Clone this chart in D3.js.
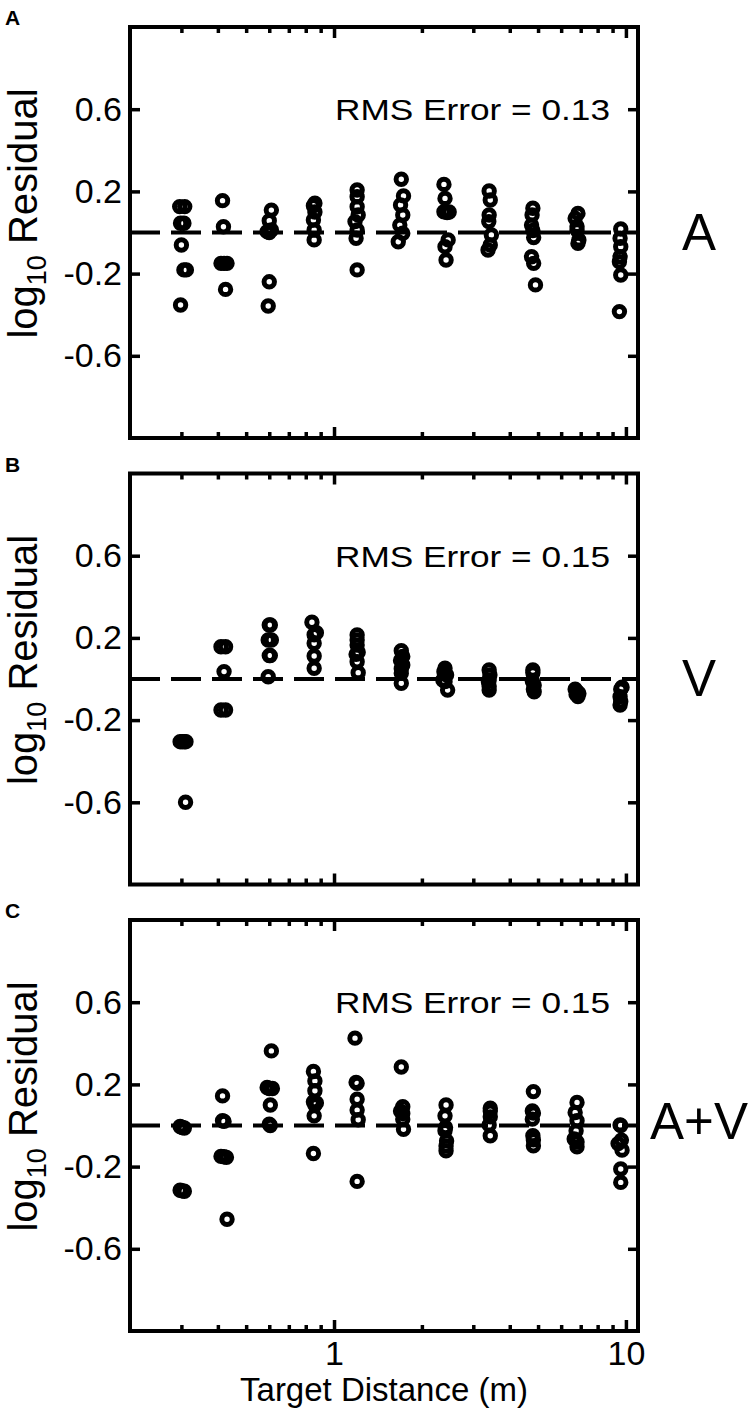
<!DOCTYPE html>
<html>
<head>
<meta charset="utf-8">
<script src="https://cdn.jsdelivr.net/npm/d3@7"></script>
<style>
  body { margin: 0; background: #fff; }
  text { font-family: "Liberation Sans", Arial, sans-serif; fill: #000; }
</style>
</head>
<body>
<div id="chart"></div>
<script>
// データ
const panelTags = ["A", "B", "C"];
const conditions = ["A", "V", "A+V"];
const rmsErrors = ["0.13", "0.15", "0.15"];
const yTicks = [-0.6, -0.2, 0.2, 0.6];
const xMajor = [1, 10];
const xMinor = [0.3, 0.4, 0.5, 0.6, 0.7, 0.8, 0.9, 2, 3, 4, 5, 6, 7, 8, 9];

// [target distance (m), log10 residual]
const residA = [
  [0.296,0.126],[0.308,0.126],[0.298,0.045],[0.306,0.045],[0.300,-0.061],[0.306,-0.182],[0.312,-0.182],[0.298,-0.353],
  [0.415,0.155],[0.418,0.028],[0.410,-0.150],[0.420,-0.150],[0.430,-0.150],[0.425,-0.277],
  [0.61,0.109],[0.60,0.057],[0.59,0.004],[0.61,0.012],[0.60,0.0],[0.60,-0.240],[0.595,-0.358],
  [0.86,0.142],[0.85,0.130],[0.86,0.100],[0.85,0.061],[0.855,0.012],[0.855,-0.036],
  [1.20,0.207],[1.20,0.174],[1.20,0.125],[1.21,0.085],[1.18,0.053],[1.20,0.012],[1.19,-0.028],[1.20,-0.182],
  [1.70,0.259],[1.73,0.178],[1.69,0.134],[1.72,0.085],[1.68,0.036],[1.72,-0.004],[1.66,-0.045],
  [2.38,0.234],[2.40,0.166],[2.38,0.101],[2.44,0.097],[2.48,0.100],[2.46,-0.036],[2.40,-0.069],[2.42,-0.134],
  [3.40,0.202],[3.43,0.158],[3.40,0.085],[3.39,0.053],[3.46,-0.012],[3.43,-0.061],[3.37,-0.085],
  [4.80,0.118],[4.77,0.085],[4.75,0.036],[4.80,0.010],[4.83,-0.024],[4.75,-0.118],[4.83,-0.150],[4.90,-0.255],
  [6.85,0.093],[6.70,0.069],[6.80,0.030],[6.80,0.012],[6.90,-0.036],[6.85,-0.053],
  [9.60,0.017],[9.55,-0.028],[9.60,-0.069],[9.55,-0.118],[9.50,-0.142],[9.60,-0.207],[9.50,-0.385]
];
const residV = [
  [0.297,-0.305],[0.302,-0.305],[0.307,-0.305],[0.311,-0.305],[0.31,-0.600],
  [0.41,0.157],[0.425,0.157],[0.42,0.036],[0.41,-0.151],[0.425,-0.151],
  [0.60,0.263],[0.605,0.263],[0.595,0.190],[0.61,0.190],[0.60,0.114],[0.605,0.114],[0.595,0.011],
  [0.84,0.276],[0.87,0.225],[0.855,0.215],[0.855,0.174],[0.855,0.112],[0.855,0.052],
  [1.20,0.214],[1.20,0.190],[1.20,0.165],[1.21,0.130],[1.19,0.120],[1.20,0.084],[1.21,0.031],
  [1.70,0.138],[1.72,0.110],[1.69,0.090],[1.72,0.068],[1.70,0.050],[1.70,0.028],[1.70,-0.021],
  [2.40,0.052],[2.38,0.035],[2.43,0.020],[2.36,-0.005],[2.40,-0.013],[2.45,-0.054],
  [3.40,0.044],[3.42,0.020],[3.40,-0.005],[3.38,-0.013],[3.40,-0.035],[3.40,-0.054],
  [4.80,0.044],[4.80,0.030],[4.78,-0.010],[4.85,-0.030],[4.82,-0.050],[4.85,-0.062],
  [6.70,-0.050],[6.80,-0.062],[6.90,-0.070],[6.85,-0.085],[6.75,-0.075],
  [9.70,-0.040],[9.60,-0.050],[9.55,-0.086],[9.60,-0.110],[9.55,-0.127]
];
const residAV = [
  [0.297,-0.005],[0.302,-0.010],[0.307,-0.012],[0.297,-0.315],[0.302,-0.318],[0.307,-0.320],
  [0.415,0.144],[0.415,0.023],[0.42,0.020],[0.41,-0.150],[0.42,-0.152],[0.428,-0.155],[0.43,-0.456],
  [0.61,0.363],[0.59,0.185],[0.60,0.180],[0.615,0.180],[0.605,0.100],[0.60,0.006],[0.605,0.000],
  [0.85,0.263],[0.86,0.217],[0.86,0.169],[0.85,0.115],[0.87,0.110],[0.86,0.100],[0.855,0.047],[0.85,-0.136],
  [1.18,0.425],[1.19,0.210],[1.20,0.205],[1.20,0.128],[1.20,0.075],[1.21,0.028],[1.20,-0.272],
  [1.70,0.285],[1.72,0.091],[1.69,0.070],[1.72,0.058],[1.72,0.031],[1.73,-0.018],
  [2.42,0.100],[2.40,0.047],[2.41,-0.010],[2.40,-0.025],[2.43,-0.075],[2.42,-0.100],[2.42,-0.123],
  [3.43,0.084],[3.43,0.070],[3.43,0.042],[3.40,0.003],[3.43,-0.050],
  [4.82,0.165],[4.78,0.071],[4.82,0.060],[4.78,0.031],[4.80,-0.050],[4.82,-0.070],[4.82,-0.099],
  [6.80,0.112],[6.70,0.063],[6.80,0.023],[6.75,-0.026],[6.65,-0.066],[6.80,-0.080],[6.80,-0.104],
  [9.55,0.003],[9.60,0.000],[9.40,-0.088],[9.65,-0.071],[9.70,-0.120],[9.60,-0.212],[9.60,-0.277]
];
const residuals = [residA, residV, residAV];

// レイアウト
const width = 756;
const height = 1414;
const left = 130, plotW = 508, plotH = 411;
const panelTops = [27, 473.5, 920];

const svg = d3.select("#chart").append("svg")
    .attr("width", width)
    .attr("height", height)
    .style("background", "#fff");

const x = d3.scaleLog().domain([0.2, 11]).range([0, plotW]);
const y = d3.scaleLinear().domain([-1, 1]).range([plotH, 0]);

panelTops.forEach((top, i) => {
    const g = svg.append("g").attr("transform", `translate(${left},${top})`);

    // 目盛り（内向き）
    const styleAxis = sel => {
        sel.select(".domain").remove();
        sel.selectAll(".tick line").attr("stroke", "#000").attr("stroke-width", 3.5);
        sel.selectAll(".tick text").style("font-size", "34px").attr("fill", "#000");
    };
    g.append("g")
        .call(d3.axisLeft(y).tickValues(yTicks).tickSizeInner(-10).tickSizeOuter(0).tickPadding(8)
            .tickFormat(d3.format(".1f")))
        .call(styleAxis)
        .selectAll(".tick text").text(d => d3.format(".1f")(d).replace("−", "-"));
    g.append("g").attr("transform", `translate(${plotW},0)`)
        .call(d3.axisRight(y).tickValues(yTicks).tickSizeInner(-10).tickSizeOuter(0).tickFormat(""))
        .call(styleAxis);

    [[d3.axisTop, 0], [d3.axisBottom, plotH]].forEach(([ax, ty]) => {
        g.append("g").attr("transform", `translate(0,${ty})`)
            .call(ax(x).tickValues(xMinor).tickSizeInner(-6).tickSizeOuter(0).tickFormat(""))
            .call(styleAxis);
        g.append("g").attr("transform", `translate(0,${ty})`)
            .call(ax(x).tickValues(xMajor).tickSizeInner(-11).tickSizeOuter(0).tickPadding(10)
                .tickFormat(i === 2 && ty === plotH ? d3.format("d") : ""))
            .call(styleAxis);
    });

    // 枠
    g.append("rect")
        .attr("width", plotW).attr("height", plotH)
        .attr("fill", "none").attr("stroke", "#000").attr("stroke-width", 4);

    // ゼロ線
    g.append("line")
        .attr("x1", 0).attr("x2", plotW)
        .attr("y1", y(0)).attr("y2", y(0))
        .attr("stroke", "#000").attr("stroke-width", 4)
        .attr("stroke-dasharray", "30,11");

    // 残差
    g.selectAll("circle")
        .data(residuals[i])
        .enter().append("circle")
        .attr("cx", d => x(d[0]))
        .attr("cy", d => y(d[1]))
        .attr("r", 5.2)
        .attr("fill", "none")
        .attr("stroke", "#000")
        .attr("stroke-width", 5);

    // RMS
    g.append("text")
        .attr("x", 205).attr("y", 93)
        .attr("textLength", 275).attr("lengthAdjust", "spacingAndGlyphs")
        .style("font-size", "30px")
        .text(`RMS Error = ${rmsErrors[i]}`);

    // 条件ラベル
    svg.append("text")
        .attr("x", 699).attr("y", top + y(0) + (i === 2 ? 13 : 17))
        .attr("text-anchor", "middle")
        .style("font-size", "51px")
        .text(conditions[i]);

    // パネル記号
    svg.append("text")
        .attr("x", 5).attr("y", top - 2)
        .style("font-size", "21px").style("font-weight", "bold")
        .text(panelTags[i]);

    // y軸ラベル
    const yl = svg.append("text")
        .attr("transform", `translate(37,${top + plotH / 2 - 19}) rotate(-90)`)
        .attr("text-anchor", "middle")
        .style("font-size", "40px");
    yl.append("tspan").text("log");
    yl.append("tspan").attr("dy", 9).style("font-size", "27px").text("10");
    yl.append("tspan").attr("dy", -9).text(" Residual");
});

// x軸ラベル
svg.append("text")
    .attr("x", left + x(Math.sqrt(0.2 * 11)))
    .attr("y", 1401)
    .attr("text-anchor", "middle")
    .style("font-size", "33px")
    .text("Target Distance (m)");
</script>
</body>
</html>
